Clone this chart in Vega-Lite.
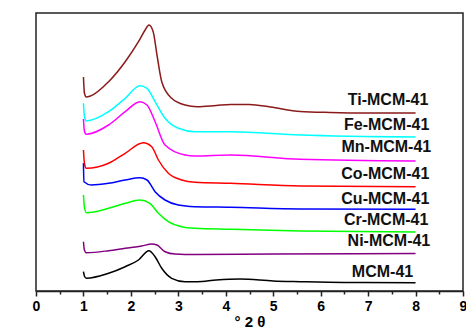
{
  "$schema": "https://vega.github.io/schema/vega-lite/v6.json",
  "width": 427,
  "height": 278,
  "autosize": {"type": "none"},
  "padding": {"left": 36, "top": 13, "right": 3, "bottom": 38},
  "background": "white",
  "config": {
    "view": {"stroke": "#222", "strokeWidth": 1.5},
    "axis": {"grid": false, "domainColor": "#222", "domainWidth": 1.5, "tickColor": "#222", "tickWidth": 1.5}
  },
  "datasets": {
    "curves": [
      {"s": "Ti-MCM-41", "x": 1.0, "v": 214}, {"s": "Ti-MCM-41", "x": 1.02, "v": 198}, {"s": "Ti-MCM-41", "x": 1.06, "v": 194}, {"s": "Ti-MCM-41", "x": 1.15, "v": 195}, {"s": "Ti-MCM-41", "x": 1.53, "v": 209.3}, {"s": "Ti-MCM-41", "x": 1.88, "v": 229.3}, {"s": "Ti-MCM-41", "x": 2.16, "v": 249.3}, {"s": "Ti-MCM-41", "x": 2.3, "v": 261}, {"s": "Ti-MCM-41", "x": 2.38, "v": 266}, {"s": "Ti-MCM-41", "x": 2.47, "v": 259.3}, {"s": "Ti-MCM-41", "x": 2.55, "v": 236}, {"s": "Ti-MCM-41", "x": 2.65, "v": 209.3}, {"s": "Ti-MCM-41", "x": 2.86, "v": 192.7}, {"s": "Ti-MCM-41", "x": 3.14, "v": 186}, {"s": "Ti-MCM-41", "x": 3.4, "v": 184.3}, {"s": "Ti-MCM-41", "x": 3.8, "v": 185.5}, {"s": "Ti-MCM-41", "x": 4.1, "v": 186.5}, {"s": "Ti-MCM-41", "x": 4.5, "v": 186.5}, {"s": "Ti-MCM-41", "x": 4.94, "v": 184}, {"s": "Ti-MCM-41", "x": 5.57, "v": 179.5}, {"s": "Ti-MCM-41", "x": 6.2, "v": 178.5}, {"s": "Ti-MCM-41", "x": 7.0, "v": 178}, {"s": "Ti-MCM-41", "x": 8.0, "v": 178},
      {"s": "Fe-MCM-41", "x": 1.0, "v": 187.7}, {"s": "Fe-MCM-41", "x": 1.02, "v": 175}, {"s": "Fe-MCM-41", "x": 1.06, "v": 170}, {"s": "Fe-MCM-41", "x": 1.53, "v": 179.3}, {"s": "Fe-MCM-41", "x": 1.88, "v": 192.7}, {"s": "Fe-MCM-41", "x": 2.19, "v": 205.3}, {"s": "Fe-MCM-41", "x": 2.34, "v": 202.7}, {"s": "Fe-MCM-41", "x": 2.51, "v": 189.3}, {"s": "Fe-MCM-41", "x": 2.72, "v": 172.7}, {"s": "Fe-MCM-41", "x": 3.0, "v": 162.7}, {"s": "Fe-MCM-41", "x": 3.35, "v": 159.3}, {"s": "Fe-MCM-41", "x": 4.1, "v": 159.3}, {"s": "Fe-MCM-41", "x": 5.57, "v": 156}, {"s": "Fe-MCM-41", "x": 8.0, "v": 154},
      {"s": "Mn-MCM-41", "x": 1.0, "v": 172}, {"s": "Mn-MCM-41", "x": 1.02, "v": 160}, {"s": "Mn-MCM-41", "x": 1.06, "v": 156.7}, {"s": "Mn-MCM-41", "x": 1.53, "v": 166}, {"s": "Mn-MCM-41", "x": 1.88, "v": 179.3}, {"s": "Mn-MCM-41", "x": 2.19, "v": 189.3}, {"s": "Mn-MCM-41", "x": 2.34, "v": 186}, {"s": "Mn-MCM-41", "x": 2.51, "v": 169.3}, {"s": "Mn-MCM-41", "x": 2.72, "v": 146}, {"s": "Mn-MCM-41", "x": 3.14, "v": 136}, {"s": "Mn-MCM-41", "x": 3.35, "v": 135}, {"s": "Mn-MCM-41", "x": 4.1, "v": 136}, {"s": "Mn-MCM-41", "x": 5.57, "v": 131.7}, {"s": "Mn-MCM-41", "x": 8.0, "v": 130},
      {"s": "Co-MCM-41", "x": 1.0, "v": 141}, {"s": "Co-MCM-41", "x": 1.02, "v": 128}, {"s": "Co-MCM-41", "x": 1.06, "v": 122.7}, {"s": "Co-MCM-41", "x": 1.53, "v": 127.7}, {"s": "Co-MCM-41", "x": 1.88, "v": 137.7}, {"s": "Co-MCM-41", "x": 2.26, "v": 148.3}, {"s": "Co-MCM-41", "x": 2.44, "v": 144.3}, {"s": "Co-MCM-41", "x": 2.58, "v": 131}, {"s": "Co-MCM-41", "x": 2.79, "v": 117.7}, {"s": "Co-MCM-41", "x": 3.07, "v": 111}, {"s": "Co-MCM-41", "x": 3.35, "v": 108.7}, {"s": "Co-MCM-41", "x": 4.1, "v": 107.7}, {"s": "Co-MCM-41", "x": 5.57, "v": 105}, {"s": "Co-MCM-41", "x": 8.0, "v": 104.3},
      {"s": "Cu-MCM-41", "x": 1.0, "v": 127.7}, {"s": "Cu-MCM-41", "x": 1.01, "v": 109.3}, {"s": "Cu-MCM-41", "x": 1.17, "v": 106}, {"s": "Cu-MCM-41", "x": 1.53, "v": 107.7}, {"s": "Cu-MCM-41", "x": 1.88, "v": 111}, {"s": "Cu-MCM-41", "x": 2.19, "v": 113.3}, {"s": "Cu-MCM-41", "x": 2.34, "v": 111}, {"s": "Cu-MCM-41", "x": 2.51, "v": 99.3}, {"s": "Cu-MCM-41", "x": 2.72, "v": 91}, {"s": "Cu-MCM-41", "x": 3.0, "v": 86}, {"s": "Cu-MCM-41", "x": 3.35, "v": 84.3}, {"s": "Cu-MCM-41", "x": 4.1, "v": 83.7}, {"s": "Cu-MCM-41", "x": 5.57, "v": 82}, {"s": "Cu-MCM-41", "x": 8.0, "v": 81.7},
      {"s": "Cr-MCM-41", "x": 1.0, "v": 96}, {"s": "Cr-MCM-41", "x": 1.02, "v": 84}, {"s": "Cr-MCM-41", "x": 1.06, "v": 78.3}, {"s": "Cr-MCM-41", "x": 1.53, "v": 82.7}, {"s": "Cr-MCM-41", "x": 1.88, "v": 87.7}, {"s": "Cr-MCM-41", "x": 2.19, "v": 91}, {"s": "Cr-MCM-41", "x": 2.4, "v": 87.7}, {"s": "Cr-MCM-41", "x": 2.58, "v": 77.7}, {"s": "Cr-MCM-41", "x": 2.79, "v": 69.3}, {"s": "Cr-MCM-41", "x": 3.07, "v": 64.3}, {"s": "Cr-MCM-41", "x": 3.35, "v": 62.7}, {"s": "Cr-MCM-41", "x": 4.1, "v": 61.7}, {"s": "Cr-MCM-41", "x": 5.57, "v": 60}, {"s": "Cr-MCM-41", "x": 8.0, "v": 59},
      {"s": "Ni-MCM-41", "x": 1.0, "v": 49.3}, {"s": "Ni-MCM-41", "x": 1.02, "v": 41}, {"s": "Ni-MCM-41", "x": 1.06, "v": 38.3}, {"s": "Ni-MCM-41", "x": 1.53, "v": 40.3}, {"s": "Ni-MCM-41", "x": 1.88, "v": 42.7}, {"s": "Ni-MCM-41", "x": 2.23, "v": 45}, {"s": "Ni-MCM-41", "x": 2.44, "v": 47}, {"s": "Ni-MCM-41", "x": 2.55, "v": 46}, {"s": "Ni-MCM-41", "x": 2.72, "v": 39.3}, {"s": "Ni-MCM-41", "x": 2.93, "v": 37}, {"s": "Ni-MCM-41", "x": 3.35, "v": 36.5}, {"s": "Ni-MCM-41", "x": 5.0, "v": 37}, {"s": "Ni-MCM-41", "x": 8.0, "v": 37.5},
      {"s": "MCM-41", "x": 1.0, "v": 19.3}, {"s": "MCM-41", "x": 1.02, "v": 15}, {"s": "MCM-41", "x": 1.06, "v": 12.7}, {"s": "MCM-41", "x": 1.53, "v": 17.7}, {"s": "MCM-41", "x": 1.88, "v": 24.3}, {"s": "MCM-41", "x": 2.16, "v": 31}, {"s": "MCM-41", "x": 2.38, "v": 40.3}, {"s": "MCM-41", "x": 2.51, "v": 34.3}, {"s": "MCM-41", "x": 2.65, "v": 22.7}, {"s": "MCM-41", "x": 2.86, "v": 12.7}, {"s": "MCM-41", "x": 3.14, "v": 9.3}, {"s": "MCM-41", "x": 3.4, "v": 9.3}, {"s": "MCM-41", "x": 3.8, "v": 11}, {"s": "MCM-41", "x": 4.3, "v": 12}, {"s": "MCM-41", "x": 5.0, "v": 10}, {"s": "MCM-41", "x": 5.57, "v": 9.3}, {"s": "MCM-41", "x": 6.5, "v": 8.5}, {"s": "MCM-41", "x": 8.0, "v": 8.3}
    ],
    "labels": [
      {"s": "Ti-MCM-41", "x": 8.27, "v": 185.8},
      {"s": "Fe-MCM-41", "x": 8.29, "v": 160.8},
      {"s": "Mn-MCM-41", "x": 8.33, "v": 139.3},
      {"s": "Co-MCM-41", "x": 8.29, "v": 112},
      {"s": "Cu-MCM-41", "x": 8.29, "v": 87.3},
      {"s": "Cr-MCM-41", "x": 8.27, "v": 66.3},
      {"s": "Ni-MCM-41", "x": 8.31, "v": 44.8},
      {"s": "MCM-41", "x": 7.95, "v": 13.6}
    ]
  },
  "layer": [
    {
      "data": {"name": "curves"},
      "mark": {"type": "line", "strokeWidth": 1.5, "interpolate": "monotone"},
      "encoding": {
        "x": {"field": "x", "type": "quantitative", "scale": {"domain": [0, 9], "nice": false},
          "axis": {"values": [0, 1, 2, 3, 4, 5, 6, 7, 8, 9], "title": "° 2 θ", "orient": "bottom",
            "labelFont": "Liberation Sans", "labelFontWeight": "bold", "labelFontSize": 14, "labelColor": "#000",
            "tickSize": 5, "labelPadding": 3, "labelFlush": false,
            "titleFont": "Liberation Sans", "titleFontWeight": "bold", "titleFontSize": 15, "titleColor": "#000",
            "titleBaseline": "alphabetic", "titleY": 35}},
        "y": {"field": "v", "type": "quantitative", "scale": {"domain": [0, 278], "nice": false},
          "axis": {"labels": false, "ticks": false, "title": "Intensidade (u.a.)",
            "titleFont": "Liberation Sans", "titleFontWeight": "normal", "titleFontSize": 19, "titleColor": "#000",
            "titleAngle": 270, "titleAlign": "center", "titleBaseline": "middle", "titleX": -14, "titleY": 122}},
        "detail": {"field": "s"},
        "color": {"field": "s", "type": "nominal", "legend": null,
          "scale": {"domain": ["Ti-MCM-41", "Fe-MCM-41", "Mn-MCM-41", "Co-MCM-41", "Cu-MCM-41", "Cr-MCM-41", "Ni-MCM-41", "MCM-41"],
            "range": ["#8B1A1A", "#00FFFF", "#FF00FF", "#FF0000", "#0000FF", "#00FF00", "#800080", "#000000"]}}
      }
    },
    {
      "data": {"name": "labels"},
      "mark": {"type": "text", "align": "right", "baseline": "alphabetic", "font": "Liberation Sans", "fontWeight": "bold", "fontSize": 16, "color": "#111"},
      "encoding": {
        "x": {"field": "x", "type": "quantitative",
          "axis": {"values": [0.5, 1.5, 2.5, 3.5, 4.5, 5.5, 6.5, 7.5, 8.5], "orient": "bottom", "labels": false, "domain": false, "tickSize": 3, "title": null}},
        "y": {"field": "v", "type": "quantitative", "axis": null},
        "text": {"field": "s"}
      }
    }
  ],
  "resolve": {"axis": {"x": "independent"}}
}
